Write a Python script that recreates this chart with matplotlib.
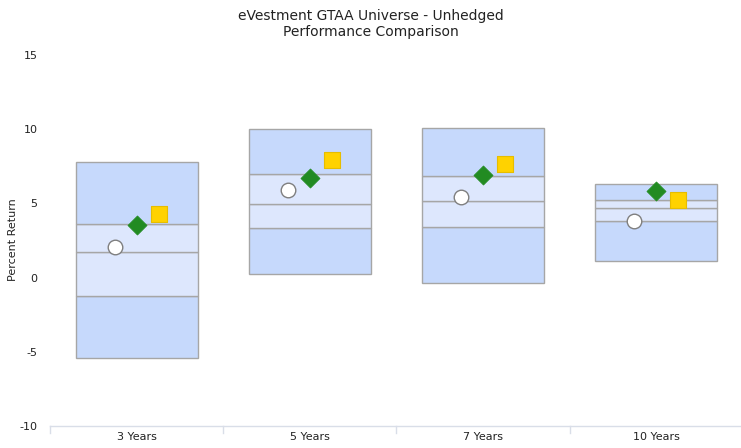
import matplotlib
matplotlib.use("Agg")
import matplotlib.pyplot as plt
from matplotlib.patches import Rectangle

categories = ["3 Years", "5 Years", "7 Years", "10 Years"]
p05 = [7.79, 10.02, 10.08, 6.31]
p25 = [3.61, 6.98, 6.85, 5.23]
p50 = [1.72, 4.96, 5.16, 4.69]
p75 = [-1.24, 3.34, 3.41, 3.81]
p95 = [-5.41, 0.24, -0.36, 1.12]
circle_vals = [2.10, 5.88, 5.43, 3.81]
diamond_vals = [3.54, 6.71, 6.91, 5.84]
square_vals = [4.29, 7.92, 7.65, 5.23]
yticks = [-10, -5, 0, 5, 10, 15]

fig = plt.figure(figsize=(7.41, 4.48), dpi=100)
ax = fig.add_axes([0.0675, 0.049, 0.935, 0.828])

outer_c = "#c6d9fc"
inner_c = "#dde7fd"
edge_c = "#a6a6a6"
w = 0.705
for i in range(len(categories)):
    x0 = i - w / 2
    segs = [(p95[i], p75[i], outer_c), (p75[i], p50[i], inner_c),
            (p50[i], p25[i], inner_c), (p25[i], p05[i], outer_c)]
    for lo, hi, c in segs:
        ax.add_patch(Rectangle((x0, lo), w, hi - lo, facecolor=c,
                               edgecolor=edge_c, linewidth=1.0, zorder=2))

xs = list(range(len(categories)))
off = 0.127
ax.scatter([x - off for x in xs], circle_vals, s=110, marker="o",
           facecolor="white", edgecolor="#7f7f7f", linewidth=1.0, zorder=4)
ax.scatter(xs, diamond_vals, s=95, marker="D", facecolor="#228b22",
           edgecolor="#228b22", linewidth=0.5, zorder=4)
ax.scatter([x + off for x in xs], square_vals, s=140, marker="s",
           facecolor="#ffd200", edgecolor="#e6bd00", linewidth=0.8, zorder=4)

ax.set_xlim(-0.5, len(categories) - 0.5)
ax.set_ylim(-10, 15)
ax.set_yticks(yticks)
ax.set_yticklabels([str(t) for t in yticks], fontsize=8, color="#222222")
ax.tick_params(axis="y", length=0, pad=9)
ax.set_xticks(xs)
ax.set_xticklabels(categories, fontsize=8, color="#222222")
ax.tick_params(axis="x", length=0, pad=4)
for xb in [-0.5, 0.5, 1.5, 2.5]:
    ax.plot([xb, xb], [-10, -10.45], color="#d9dee8", lw=1.0, clip_on=False, zorder=1)

for s in ["left", "right", "top"]:
    ax.spines[s].set_visible(False)
ax.spines["bottom"].set_color("#d9dee8")
ax.spines["bottom"].set_linewidth(1.0)

fig.text(0.017, 1 - 240 / 448, "Percent Return", rotation=90, ha="center",
         va="center", fontsize=8, color="#222222")
fig.text(0.5, 1 - 24 / 448, "eVestment GTAA Universe - Unhedged\nPerformance Comparison",
         ha="center", va="center", fontsize=10, color="#222222", linespacing=1.15)

fig.savefig("out.png", dpi=100)
